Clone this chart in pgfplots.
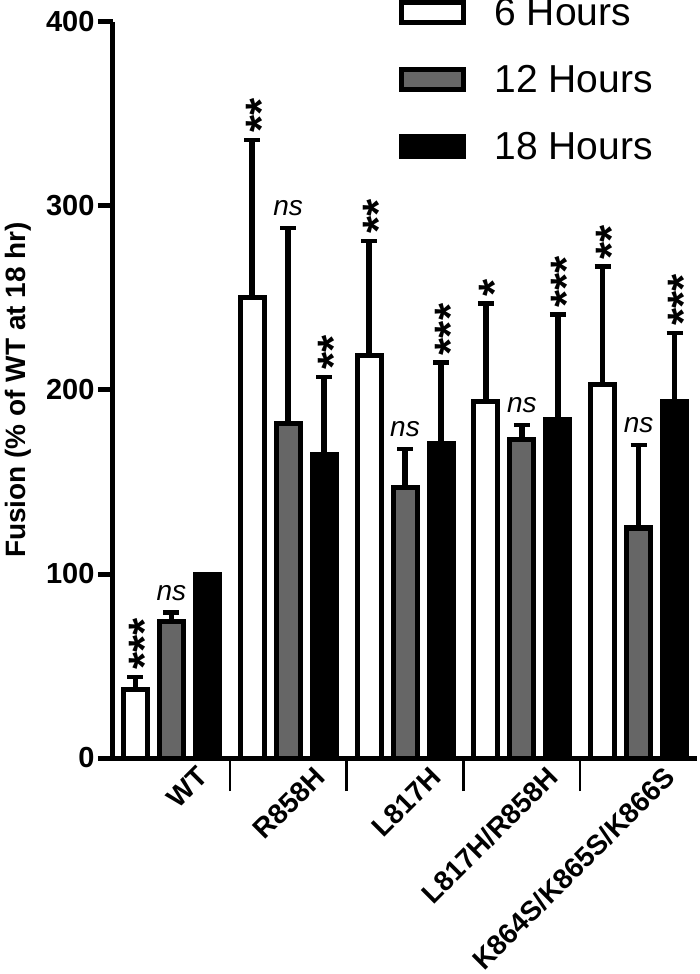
\documentclass[border=0pt]{standalone}
\usepackage{fontspec}
\setmainfont{Liberation Sans}
\usepackage{pgfplots}
\pgfplotsset{compat=1.18}
\definecolor{midgray}{HTML}{666666}
\tikzset{
 stars/.style={rotate=90, anchor=west, inner sep=0pt, font=\bfseries\fontsize{44}{44}\selectfont},
 nslab/.style={anchor=south, inner sep=0pt, font=\itshape\fontsize{28}{28}\selectfont},
}
\pgfplotsset{
 mylegend/.style={legend image code/.code={\draw[#1, line width=5pt] (0pt,-10pt) rectangle (62pt,10pt);}},
}
\begin{document}
\begin{tikzpicture}
\begin{axis}[
 scale only axis, width=584pt, height=736pt,
 xmin=-0.5, xmax=4.5, ymin=0, ymax=400,
 axis x line=bottom, axis y line=left,
 axis line style={line width=5pt, -},
 ybar=12pt, bar width=24pt,
 ytick={0,100,200,300,400},
 /pgf/number format/assume math mode=true,
 yticklabel style={font=\bfseries\fontsize{29}{29}\selectfont},
 ytick style={line width=5pt, black},
 major tick length=15pt,
 tick align=outside,
 xtick={0.32,1.32,2.32,3.32,4.32},
 xticklabels={WT,R858H,L817H,L817H/R858H,K864S/K865S/K866S},
 xticklabel style={font=\bfseries\fontsize{28}{28}\selectfont, rotate=45, anchor=east, yshift=5pt},
 xtick style={draw=none},
 extra x ticks={0.5,1.5,2.5,3.5},
 extra x tick labels={},
 extra x tick style={major tick length=33pt, xtick style={draw=black, line width=2.5pt}},
 ylabel={Fusion (\% of WT at 18 hr)},
 ylabel style={font=\bfseries\fontsize{28}{28}\selectfont},
 ylabel shift=8pt,
 error bars/y dir=plus, error bars/y explicit,
 error bars/error bar style={line width=5.5pt, black},
 error bars/error mark options={rotate=90, line width=4.5pt, mark size=8pt, black},
 legend style={at={(0.49,1.035)}, anchor=north west, draw=none, fill=none,
   font=\fontsize{39}{39}\selectfont, row sep=34pt, inner sep=0pt,
   /tikz/every odd column/.append style={column sep=26pt}},
 legend cell align=left,
 clip=false,
]
\addplot[fill=white, draw=black, line width=5pt, mylegend] coordinates {
 (0,37) +- (0,7)
 (1,250) +- (0,86)
 (2,219) +- (0,62)
 (3,194) +- (0,53)
 (4,203) +- (0,64)
};
\addlegendentry{6 Hours}
\addplot[fill=midgray, draw=black, line width=5pt, mylegend] coordinates {
 (0,74) +- (0,5)
 (1,182) +- (0,106)
 (2,147) +- (0,21)
 (3,173) +- (0,8)
 (4,125) +- (0,45)
};
\addlegendentry{12 Hours}
\addplot[fill=black, draw=black, line width=5pt, mylegend] coordinates {
 (0,100) +- (0,0)
 (1,165) +- (0,42)
 (2,171) +- (0,44)
 (3,184) +- (0,57)
 (4,194) +- (0,37)
};
\addlegendentry{18 Hours}
% significance labels
\node[stars] at ([shift={(9pt,7pt)}]axis cs:-0.308,44) {***};
\node[nslab] at ([shift={(0pt,12pt)}]axis cs:0,79) {ns};
\node[stars] at ([shift={(9pt,7pt)}]axis cs:0.692,336) {**};
\node[nslab] at ([shift={(0pt,12pt)}]axis cs:1,288) {ns};
\node[stars] at ([shift={(9pt,7pt)}]axis cs:1.308,207) {**};
\node[stars] at ([shift={(9pt,7pt)}]axis cs:1.692,281) {**};
\node[nslab] at ([shift={(0pt,12pt)}]axis cs:2,168) {ns};
\node[stars] at ([shift={(9pt,7pt)}]axis cs:2.308,215) {***};
\node[stars] at ([shift={(9pt,7pt)}]axis cs:2.692,247) {*};
\node[nslab] at ([shift={(0pt,12pt)}]axis cs:3,181) {ns};
\node[stars] at ([shift={(9pt,7pt)}]axis cs:3.308,241) {***};
\node[stars] at ([shift={(9pt,7pt)}]axis cs:3.692,267) {**};
\node[nslab] at ([shift={(0pt,12pt)}]axis cs:4,170) {ns};
\node[stars] at ([shift={(9pt,7pt)}]axis cs:4.308,231) {***};
\end{axis}
\pgfresetboundingbox
\path[use as bounding box] ([shift={(-113pt,-216pt)}]current axis.south west) rectangle ++(700pt,974pt);
\end{tikzpicture}
\end{document}
